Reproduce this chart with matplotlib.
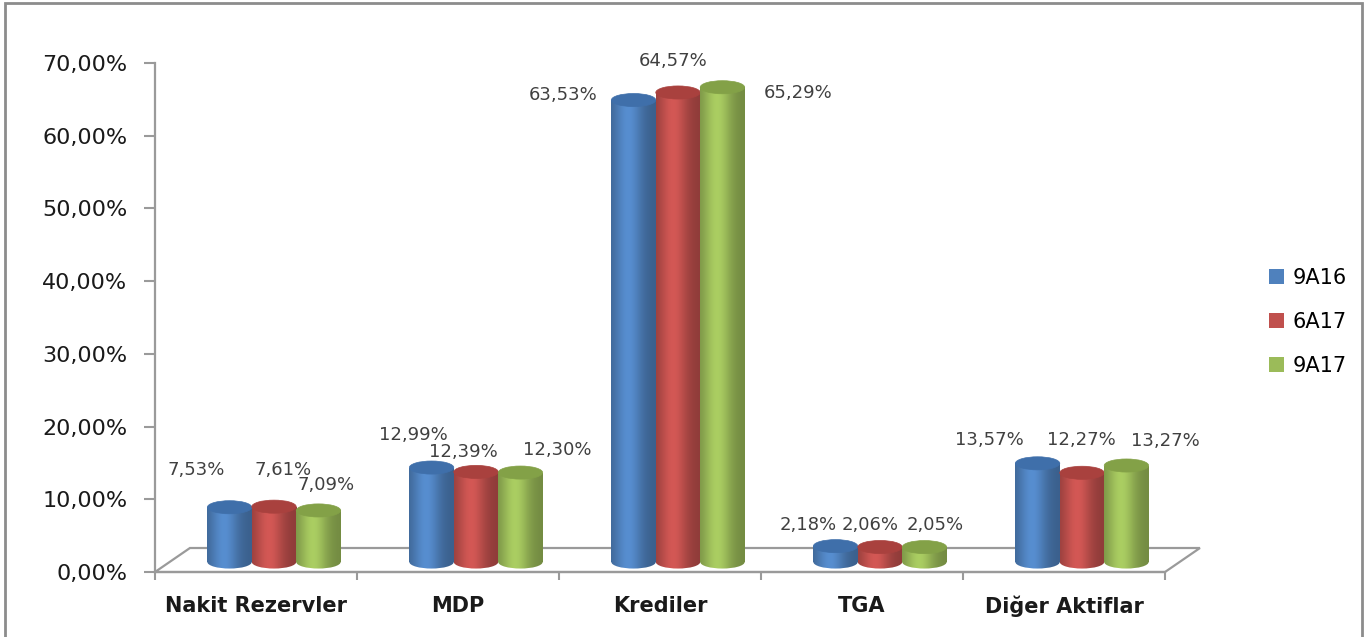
import numpy as np
import matplotlib
matplotlib.use('Agg')
import matplotlib.pyplot as plt
import matplotlib.transforms as mtransforms
from matplotlib.patches import Ellipse, Polygon, Rectangle, Patch
from matplotlib.ticker import FuncFormatter

# data
categories = ['Nakit Rezervler', 'MDP', 'Krediler', 'TGA', 'Diğer Aktiflar']
series = ['9A16', '6A17', '9A17']
v_9a16 = [7.53, 12.99, 63.53, 2.18, 13.57]
v_6a17 = [7.61, 12.39, 64.57, 2.06, 12.27]
v_9a17 = [7.09, 12.30, 65.29, 2.05, 13.27]
values = [v_9a16, v_6a17, v_9a17]

# style
colors = ['#4F81BD', '#C0504D', '#9BBB59']
top_colors = ['#3F6FAA', '#A9413E', '#83A147']
bar_w = 0.22
ell_h = 1.8          # height of cylinder caps in data units
depth_px = (18, 10)  # bars sit at mid depth of the floor
floor_dx, floor_dy = 0.173, 3.3
# manual label nudges (pixels) per series, per category, like in the source sheet
label_nudge = [
    [(-33, 37), (-18, 33), (-70, 5), (-27, 21), (-48, 23)],
    [(9, 37), (-13, 20), (-5, 31), (-10, 22), (-1, 33)],
    [(8, 25), (37, 23), (76, -6), (11, 22), (39, 25)],
]

plt.rcParams['font.family'] = 'DejaVu Sans'

fig = plt.figure(figsize=(13.66, 6.37), dpi=100, facecolor='white')
ax = fig.add_axes([155/1366., 65/637., 1010/1366., 509/637.])
trans = mtransforms.offset_copy(ax.transData, fig=fig, x=depth_px[0], y=depth_px[1], units='dots')

x = np.arange(len(categories))


def shade(c, n=64):
    rgb = np.array(matplotlib.colors.to_rgb(c))
    t = np.linspace(0, 1, n)
    f = 0.74 + 0.36*np.exp(-((t-0.38)/0.32)**2)
    img = np.clip(rgb[None, :]*f[:, None], 0, 1)
    return img[None, :, :]


# floor
floor = Polygon([(-0.5, 0), (4.5, 0), (4.5+floor_dx, floor_dy), (-0.5+floor_dx, floor_dy)],
                closed=True, facecolor='white', edgecolor='#9a9a9a', lw=1.6,
                clip_on=False, zorder=1)
ax.add_patch(floor)

for i, vals in enumerate(values):
    bars = ax.bar(x + (i-1)*bar_w, vals, bar_w, facecolor='none', edgecolor='none', zorder=2)
    grad = shade(colors[i])
    for j, b in enumerate(bars):
        b.set_transform(trans)
        x0, w, h = b.get_x(), b.get_width(), b.get_height()
        cx = x0 + w/2
        z = 3 + j*0.01 + i*0.001
        im = ax.imshow(grad, extent=(x0, x0+w, 0, h), aspect='auto', transform=trans,
                       zorder=z, interpolation='bilinear')
        im.set_clip_path(b)
        bot = Ellipse((cx, 0), w, ell_h, transform=trans, facecolor='none', edgecolor='none')
        ax.add_patch(bot)
        im2 = ax.imshow(grad, extent=(x0, x0+w, -ell_h, ell_h), aspect='auto', transform=trans,
                        zorder=z-0.0005, interpolation='bilinear')
        im2.set_clip_path(bot)
        top = Ellipse((cx, h), w, ell_h, transform=trans, facecolor=top_colors[i],
                      edgecolor=top_colors[i], lw=0.5, zorder=z+0.0005)
        ax.add_patch(top)
        dx, dy = label_nudge[i][j]
        ax.annotate(('%.2f' % vals[j]).replace('.', ',') + '%', xy=(cx, h), xycoords=trans,
                    xytext=(dx, dy), textcoords='offset pixels', ha='center', va='center',
                    fontsize=13, color='#404040', zorder=10)

ax.set_xlim(-0.5, 4.5)
ax.set_ylim(0, 70)
ax.set_yticks(np.arange(0, 71, 10))
ax.yaxis.set_major_formatter(FuncFormatter(lambda v, p: ('%.2f' % v).replace('.', ',') + '%'))
ax.set_xticks(x)
ax.set_xticklabels(categories, fontsize=15, fontweight='bold', color='#1a1a1a')
ax.set_xticks(np.arange(-0.5, 5, 1), minor=True)
ax.tick_params(axis='x', which='major', length=0, pad=17)
ax.tick_params(axis='x', which='minor', length=6, width=1.5, color='#9a9a9a', direction='out')
ax.tick_params(axis='y', length=8, width=1.5, color='#9a9a9a', pad=12, labelsize=16, labelcolor='#1a1a1a')

for s in ['top', 'right']:
    ax.spines[s].set_visible(False)
ax.spines['left'].set_color('#9a9a9a')
ax.spines['left'].set_linewidth(1.6)
ax.spines['bottom'].set_color('#9a9a9a')
ax.spines['bottom'].set_linewidth(1.6)
ax.spines['bottom'].set_zorder(1.5)
ax.patch.set_alpha(0)

handles = [Patch(facecolor=c, edgecolor='none') for c in colors]
fig.legend(handles, series, loc='center left', bbox_to_anchor=(1250/1366., 1-322/637.),
           frameon=False, fontsize=15, handlelength=0.75, handleheight=0.75,
           handletextpad=0.4, labelspacing=1.15)

fig.patches.append(Rectangle((5/1366., -0.05), 1357/1366., 1.05-3/637., transform=fig.transFigure,
                             fill=False, edgecolor='#8c8c8c', lw=2))

plt.savefig('out.png', dpi=100, facecolor='white')
